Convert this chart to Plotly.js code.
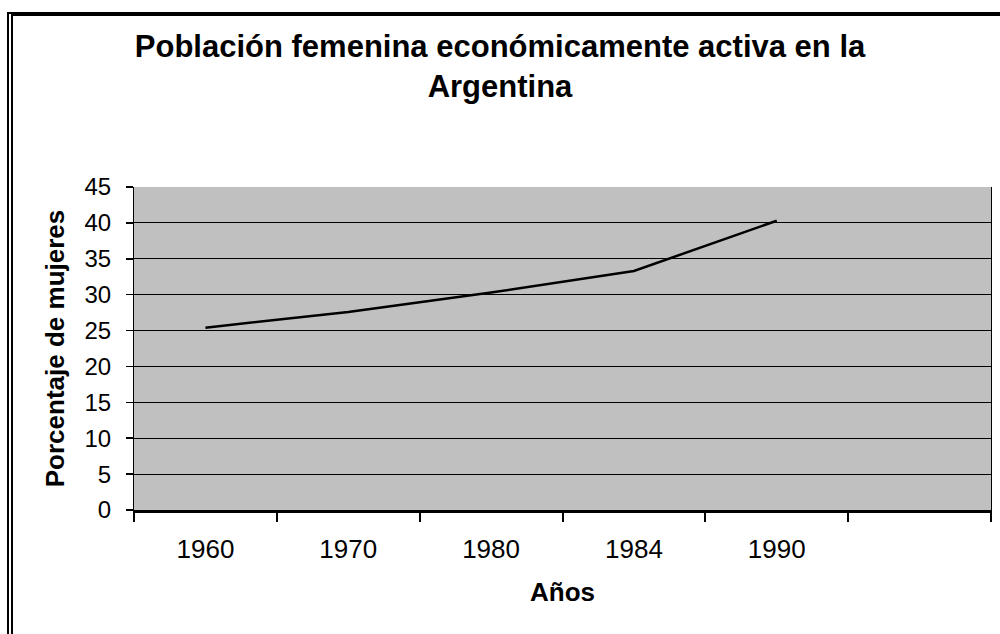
<!DOCTYPE html>
<html>
<head>
<meta charset="utf-8">
<script src="https://cdn.plot.ly/plotly-3.0.1.min.js"></script>
<style>
  html, body { margin: 0; padding: 0; background: #ffffff; }
  #frame { position: absolute; left: 7px; top: 12px; width: 993px; height: 622px;
           border-top: 4px solid #000; border-left: 6px double #000; box-sizing: border-box; }
  #chart { position: absolute; left: 0; top: 0; width: 1000px; height: 634px; }
</style>
</head>
<body>
<div id="frame"></div>
<div id="chart"></div>
<script>
const categories = ['1960', '1970', '1980', '1984', '1990', ' '];
const years = ['1960', '1970', '1980', '1984', '1990'];
const porcentaje = [25.4, 27.6, 30.3, 33.3, 40.3];
const yTicks = [0, 5, 10, 15, 20, 25, 30, 35, 40, 45];

const trace = {
  x: years,
  y: porcentaje,
  type: 'scatter',
  mode: 'lines',
  line: { color: '#000000', width: 2.5 },
  hoverinfo: 'skip',
  showlegend: false
};

const layout = {
  width: 1000,
  height: 634,
  paper_bgcolor: 'rgba(0,0,0,0)',
  plot_bgcolor: '#c0c0c0',
  margin: { l: 134, r: 9, t: 187, b: 124 },
  font: { family: 'Liberation Sans, Arial, sans-serif', color: '#000000' },
  title: {
    text: '<b>Población femenina económicamente activa en la<br>Argentina</b>',
    font: { size: 31, family: 'Liberation Sans, Arial, sans-serif', color: '#000' },
    x: 0.5, xanchor: 'center',
    y: 1 - 57 / 634, yanchor: 'top', yref: 'container'
  },
  xaxis: {
    type: 'category',
    categoryorder: 'array',
    categoryarray: categories,
    range: [-0.5, 5.5],
    tickson: 'boundaries',
    ticks: 'outside',
    ticklen: 9,
    tickwidth: 2,
    tickcolor: '#000',
    ticklabelstandoff: 14,
    showline: true,
    linecolor: '#000',
    linewidth: 3,
    showgrid: false,
    zeroline: false,
    tickfont: { size: 26 },
    title: { text: '<b>Años</b>', font: { size: 26 }, standoff: 20 },
    fixedrange: true
  },
  yaxis: {
    range: [0, 45],
    tickvals: yTicks,
    ticktext: yTicks.map(String),
    ticks: 'outside',
    ticklen: 7,
    tickwidth: 1.5,
    tickcolor: '#000',
    ticklabelstandoff: 10,
    showline: true,
    linecolor: '#000',
    linewidth: 1,
    mirror: true,
    showgrid: true,
    gridcolor: '#000',
    gridwidth: 1,
    zeroline: false,
    tickfont: { size: 24 },
    title: { text: '<b>Porcentaje de mujeres</b>', font: { size: 26 }, standoff: 12 },
    fixedrange: true
  }
};

Plotly.newPlot('chart', [trace], layout, { displayModeBar: false, staticPlot: true });
</script>
</body>
</html>
